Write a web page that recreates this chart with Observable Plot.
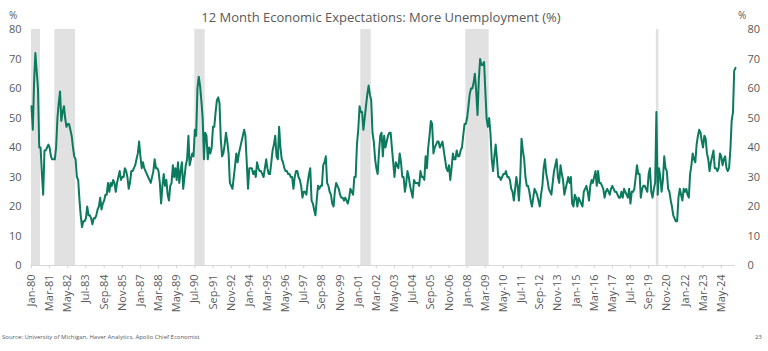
<!DOCTYPE html>
<html><head><meta charset="utf-8">
<script src="https://cdn.jsdelivr.net/npm/d3@7"></script>
<script src="https://cdn.jsdelivr.net/npm/@observablehq/plot@0.6"></script>
<style>
body{margin:0;background:#fff;font-family:"Open Sans",sans-serif;}
#wrap{position:relative;width:768px;height:351px;overflow:hidden;background:#fff}
#chart{position:absolute;left:0;top:0}
.t{position:absolute;color:#595959;white-space:nowrap;line-height:1}
#title{top:11px;left:0;width:762px;text-align:center;font-size:13px}
#pl{left:9px;top:10px;font-size:10px}
#pr{left:738px;top:10px;font-size:10px}
#src{left:2px;top:334px;font-size:6px}
#pg{left:755px;top:334px;font-size:6px}
</style></head><body>
<div id="wrap">
<div id="chart"></div>
<div class="t" id="title"></div>
<div class="t" id="pl">%</div>
<div class="t" id="pr">%</div>
<div class="t" id="src"></div>
<div class="t" id="pg">23</div>
</div>
<script>
const titleText = "12 Month Economic Expectations: More Unemployment (%)";
const sourceText = "Source: University of Michigan, Haver Analytics, Apollo Chief Economist";
const startYear = 1980;

// Monthly values, Jan-1980 onward
const values1980s = [
  54,46,62,72,66,60,40,40,31,24,39,39,
  40,41,40,37,36,36,36,40,50,55,59,49,
  52,54,50,47,48,48,46,44,40,37,36,30,
  29,22,17,13,15,15,16,20,17,17,16,14,
  16,16,17,19,20,23,19,21,22,24,24,28,
  25,28,27,29,28,25,28,30,32,29,30,30,
  33,32,30,26,28,32,32,33,34,36,38,42,
  37,33,35,33,32,31,30,29,28,30,32,36,
  33,33,32,28,21,27,31,27,29,24,22,27,
  28,34,30,33,29,35,28,32,35,26,30,34
];
const values1990s = [
  36,44,34,36,38,37,46,44,60,64,61,56,
  50,36,45,44,36,40,38,40,47,47,52,56,
  57,55,43,37,38,41,45,42,38,28,27,26,
  30,34,38,35,38,40,42,44,46,44,35,26,
  33,33,33,31,32,30,35,33,32,32,31,30,
  33,36,33,31,31,35,39,41,44,37,36,47,
  40,36,35,33,32,32,31,31,30,30,26,30,
  32,32,30,29,27,23,25,25,24,28,31,33,
  22,21,19,17,22,27,26,27,27,34,35,37,
  28,27,25,24,21,20,25,28,27,26,24,23
];
const values2000s = [
  23,22,23,22,21,23,26,25,24,30,30,41,
  46,54,52,52,46,50,54,58,61,58,56,45,
  42,36,33,31,38,44,45,37,44,40,42,44,
  45,45,40,35,30,35,34,33,38,35,30,30,
  25,28,32,30,27,25,23,29,28,28,28,27,
  32,30,30,29,37,33,40,44,49,48,38,40,
  41,42,42,40,41,42,39,36,33,32,34,29,
  33,38,36,36,39,37,37,39,40,44,48,48,
  50,54,58,60,60,62,65,59,51,63,70,68,
  68,69,60,50,47,50,45,36,32,37,41,36
];
const values2010s = [
  30,30,29,30,31,31,32,30,30,29,26,25,
  22,26,30,27,22,30,43,39,36,30,27,27,
  25,22,20,23,26,25,24,22,20,24,27,33,
  36,31,29,26,25,24,28,32,34,36,30,28,
  34,31,29,24,26,28,30,28,30,21,20,24,
  23,20,23,22,21,20,25,26,27,25,22,27,
  29,28,30,32,27,32,28,28,27,26,23,25,
  26,25,24,26,27,26,25,25,24,23,23,25,
  23,26,25,24,23,26,21,25,25,26,30,34,
  31,31,23,26,27,27,26,25,31,33,25,23
];
const values2020s = [
  26,28,52,24,33,30,25,29,37,33,32,26,
  25,22,20,17,16,15,15,23,26,24,22,26,
  25,26,24,23,31,34,38,36,35,41,44,46,
  45,42,40,44,43,38,36,32,35,37,39,33,
  33,32,33,38,37,34,36,37,33,32,33,39,
  49,52,66,67
];

const recessions = [
  ["Jan-80","Jul-80"],
  ["Jul-81","Oct-82"],
  ["Jul-90","Feb-91"],
  ["Mar-01","Oct-01"],
  ["Dec-07","May-09"],
  ["Mar-20","Apr-20"]
];

const tickLabels = ["Jan-80","Mar-81","May-82","Jul-83","Sep-84","Nov-85","Jan-87","Mar-88","May-89","Jul-90","Sep-91","Nov-92","Jan-94","Mar-95","May-96","Jul-97","Sep-98","Nov-99","Jan-01","Mar-02","May-03","Jul-04","Sep-05","Nov-06","Jan-08","Mar-09","May-10","Jul-11","Sep-12","Nov-13","Jan-15","Mar-16","May-17","Jul-18","Sep-19","Nov-20","Jan-22","Mar-23","May-24"];
const yTicks = [0,10,20,30,40,50,60,70,80];

const months = {Jan:0,Feb:1,Mar:2,Apr:3,May:4,Jun:5,Jul:6,Aug:7,Sep:8,Oct:9,Nov:10,Dec:11};
const parseLabel = s => { const [m,y] = s.split("-"); const yy = +y; return new Date(Date.UTC(yy < 50 ? 2000 + yy : 1900 + yy, months[m], 1)); };
const nextMonth = d => new Date(Date.UTC(d.getUTCFullYear(), d.getUTCMonth() + 1, 1));

const allValues = [...values1980s, ...values1990s, ...values2000s, ...values2010s, ...values2020s];
const series = allValues.map((v, i) => ({date: new Date(Date.UTC(startYear, i, 1)), value: v}));
const tickDates = tickLabels.map(parseLabel);
const labelOf = new Map(tickDates.map((d, i) => [+d, tickLabels[i]]));
const recData = recessions.map(([a, b]) => ({x1: parseLabel(a), x2: nextMonth(parseLabel(b))}));

document.getElementById("title").textContent = titleText;
document.getElementById("src").textContent = sourceText;

const chart = Plot.plot({
  width: 768, height: 351,
  marginLeft: 31, marginRight: 33, marginTop: 29, marginBottom: 86,
  style: {fontFamily: "Open Sans, sans-serif", fontSize: "11px", color: "#595959", background: "transparent"},
  x: {type: "utc", domain: [series[0].date, series[series.length - 1].date], label: null},
  y: {domain: [0, 80], label: null},
  marks: [
    Plot.rect(recData, {x1: "x1", x2: "x2", y1: 0, y2: 80, fill: "#e1e1e1"}),
    Plot.ruleY([0], {stroke: "#d9d9d9", strokeWidth: 1}),
    Plot.axisX({ticks: tickDates, tickFormat: d => labelOf.get(+d), tickRotate: -90, tickSize: 3, tickPadding: 6, stroke: "#d0d0d0", fill: "#595959", fontSize: 11, label: null}),
    Plot.axisY({anchor: "left", ticks: yTicks, tickSize: 0, tickPadding: 10, fill: "#595959", fontSize: 11, label: null}),
    Plot.axisY({anchor: "right", ticks: yTicks, tickSize: 0, tickPadding: 12, fill: "#595959", fontSize: 11, label: null}),
    Plot.line(series, {x: "date", y: "value", stroke: "#0b7a5e", strokeWidth: 2})
  ]
});
document.getElementById("chart").appendChild(chart);
</script>
</body></html>
